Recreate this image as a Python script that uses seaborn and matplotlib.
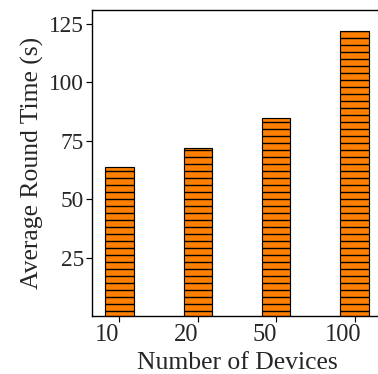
import matplotlib.pyplot as plt
import matplotlib.transforms as mtransforms
import seaborn as sns
import pandas as pd

# Data
devices = ['10', '20', '50', '100']
round_time = [64, 72, 85, 122]
y_ticks = [25, 50, 75, 100, 125]

df = pd.DataFrame({'devices': devices, 'time': round_time})

sns.set_style('ticks')
plt.rcParams['font.family'] = ['Liberation Serif', 'DejaVu Serif']
plt.rcParams['hatch.linewidth'] = 1.2

fig = plt.figure(figsize=(378 / 84, 374 / 84), dpi=84)
ax = fig.add_axes([0.2434, 0.155, 0.7672, 0.818])

sns.barplot(data=df, x='devices', y='time', color='#ff8000', saturation=1,
            width=0.36, edgecolor='black', linewidth=1.0, ax=ax)
for p in ax.patches:
    p.set_hatch('--')

ax.set_xlim(-0.35, 3.35)
ax.set_ylim(0, 131)
ax.set_yticks(y_ticks)
ax.set_xlabel('Number of Devices', fontsize=22, labelpad=5)
ax.set_ylabel('Average Round Time (s)', fontsize=22, labelpad=4)
ax.tick_params(axis='y', labelsize=20, length=5, width=1, color='black', pad=2)
ax.tick_params(axis='x', labelsize=21, length=5, width=1, color='black', pad=2)
for s in ax.spines.values():
    s.set_color('black')
    s.set_linewidth(1.2)

# x tick labels sit a bit left of their ticks in the original
offset = mtransforms.ScaledTranslation(-12 / 84, 0, fig.dpi_scale_trans)
for lab in ax.get_xticklabels():
    lab.set_transform(lab.get_transform() + offset)

fig.savefig('out.png', dpi=84)
